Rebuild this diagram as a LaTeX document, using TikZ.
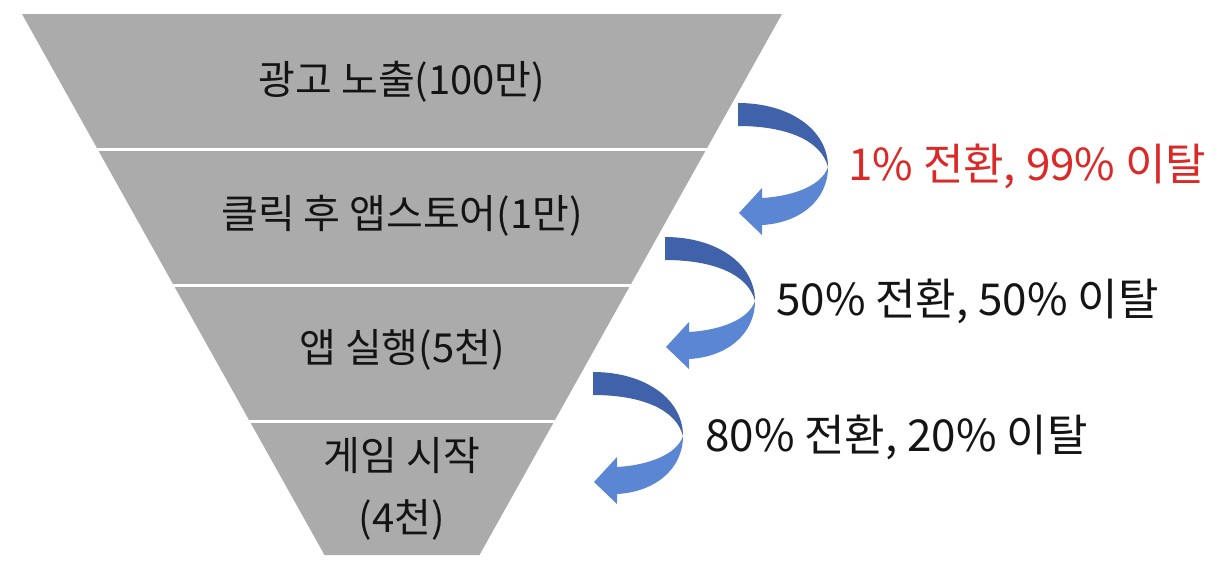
\documentclass[tikz,border=0pt]{standalone}
\usepackage{fontspec}
\newfontfamily\krfont{Noto Sans CJK KR}
\usetikzlibrary{positioning}
\definecolor{funnelgray}{RGB}{171, 171, 171}
\definecolor{arrowdark}{RGB}{64, 98, 170}
\definecolor{arrowlight}{RGB}{91, 134, 211}
\definecolor{droptext}{RGB}{218, 41, 38}
\definecolor{labeltext}{RGB}{20, 20, 20}
\tikzset{
  stagelabel/.style={font=\krfont\fontsize{40}{62}\selectfont, text=labeltext, align=center, inner sep=0pt},
  ratelabel/.style={font=\krfont\fontsize{44}{50}\selectfont, text=labeltext, anchor=west, inner sep=0pt},
  sepline/.style={draw=white, line width=3pt},
  turnarrow/.pic={
    % back half of the ribbon
    \fill[arrowdark] (0,0) .. controls (52,0) and (90,27) .. (90,64)
      .. controls (83,37) and (48,23) .. (0,23) -- cycle;
    % front half with the head
    \fill[arrowlight] (90,64) .. controls (90,97) and (62,120) .. (24,122)
      -- (24,132) -- (1,110) -- (24,85) -- (24,95)
      .. controls (57,93) and (84,82) .. (90,64) -- cycle;
  }
}

\begin{document}
\begin{tikzpicture}[x=1pt, y=-1pt]
    \useasboundingbox (0,0) rectangle (1230,570);
    % Funnel body and band separators
    \fill[funnelgray] (22,14) -- (782,14) -- (479.5,555) -- (324.5,555) -- cycle;
    \foreach \yy/\hw in {149/304.5, 285/228.5, 421/152.4}
        \draw[sepline] (400-\hw,\yy) -- (404+\hw,\yy);
    % Stage labels
    \node[stagelabel] (ad) at (402,82) {광고 노출(100만)};
    \node[stagelabel] (store) at (402,216) {클릭 후 앱스토어(1만)};
    \node[stagelabel] (launch) at (402,350) {앱 실행(5천)};
    \node[stagelabel] (start) at (402,489) {게임 시작\\(4천)};
    % Conversion arrows
    \pic at (738,103) {turnarrow};
    \pic at (665,237) {turnarrow};
    \pic at (593,372) {turnarrow};
    % Conversion rates
    \node[ratelabel, text=droptext] (rate1) at (848,166) {1\% 전환, 99\% 이탈};
    \node[ratelabel] (rate2) at (776,301) {50\% 전환, 50\% 이탈};
    \node[ratelabel] (rate3) at (705,437) {80\% 전환, 20\% 이탈};
\end{tikzpicture}
\end{document}
